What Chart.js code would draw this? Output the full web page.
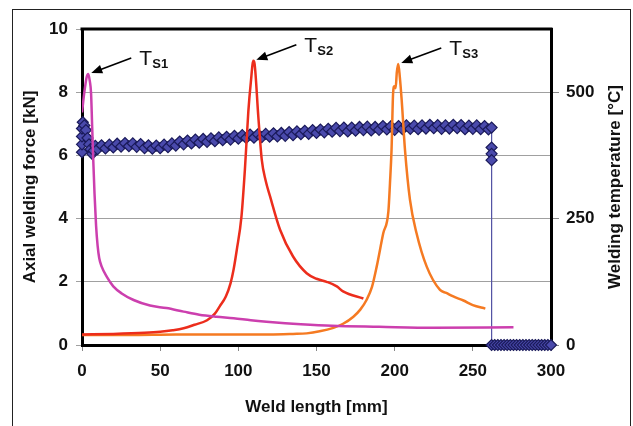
<!DOCTYPE html>
<html>
<head>
<meta charset="utf-8">
<script src="https://cdn.jsdelivr.net/npm/chart.js@4.4.1/dist/chart.umd.min.js"></script>
<style>
  html, body { margin: 0; padding: 0; background: #fff; }
  #wrap { position: relative; width: 633px; height: 426px; overflow: hidden; }
  #frame { position: absolute; left: 12px; top: 9px; width: 617px; height: 440px; border: 1.5px solid #222; }
  canvas { position: absolute; left: 0; top: 0; }
</style>
</head>
<body>
<div id="wrap">
  <div id="frame"></div>
  <canvas id="weldChart" width="633" height="426"></canvas>
</div>
<script>
// tick labels
var lengthTicks = [0, 50, 100, 150, 200, 250, 300];
var forceTicks = [0, 2, 4, 6, 8, 10];
var tempTicks = [0, 250, 500];

// temperature at thermocouple TS1 (magenta)
var ts1Length = [0, 1.5, 3, 4, 5, 5.8, 6.5, 7.2, 8, 9, 10, 11, 12.6, 15.8, 20, 25.4, 33, 43.5, 54, 65, 75, 86, 97, 108, 118, 130, 140, 160, 190, 225, 276];
var ts1Temp = [460, 500, 530, 536, 522, 498, 432, 366, 300, 236, 196, 172, 155, 135, 116, 102, 89, 78, 73, 66, 60, 56, 53, 49, 46, 43, 41, 38, 36, 34, 35];

// temperature at TS2 (red)
var ts2Length = [0, 20, 40, 50, 58, 65, 72, 80, 85, 88, 92, 95, 97, 99, 102, 104.3, 106.4, 108, 109.6, 110.4, 112.8, 115, 117.5, 120.3, 126.7, 135, 143.7, 150, 156.5, 163, 167, 180];
var ts2Temp = [21, 22, 24, 26, 29, 33, 40, 49, 62, 76, 96, 122, 150, 188, 254, 352, 462, 520, 562, 556, 451, 366, 325, 294, 228, 175, 142, 131, 125, 116, 106, 92];

// temperature at TS3 (orange)
var ts3Length = [0, 30, 60, 90, 120, 135, 143.7, 152, 160.8, 167, 173.6, 178, 182, 185.5, 188.5, 192.7, 196, 197, 198, 199, 199.8, 200.6, 201.4, 202.3, 203.3, 204.5, 206.6, 209.8, 214, 220.5, 229, 233, 237.5, 244, 250, 258];
var ts3Temp = [20, 20, 21, 21, 21, 22, 23, 27, 34, 42, 56, 70, 89, 115, 155, 221, 265, 320, 386, 498, 512, 508, 540, 556, 530, 484, 386, 287, 221, 155, 109, 103, 96, 88, 79, 72];

// axial welding force (blue diamonds)
var forceLength = [0, 0, 0, 0, 0.5, 1.5, 2.5, 3.5, 4.5, 5.5, 6.5, 7.5, 8.5,
  10, 12.5, 15, 17.5, 20, 22.5, 25, 27.5, 30, 32.5, 35, 37.5, 40, 42.5, 45, 47.5,
  50, 52.5, 55, 57.5, 60, 62.5, 65, 67.5, 70, 72.5, 75, 77.5, 80, 82.5, 85, 87.5,
  90, 92.5, 95, 97.5, 100, 102.5, 105, 107.5, 110, 112.5, 115, 117.5, 120, 122.5, 125, 127.5,
  130, 132.5, 135, 137.5, 140, 142.5, 145, 147.5, 150, 152.5, 155, 157.5, 160, 162.5, 165, 167.5,
  170, 172.5, 175, 177.5, 180, 182.5, 185, 187.5, 190, 192.5, 195, 197.5, 200, 202.5, 205, 207.5,
  210, 212.5, 215, 217.5, 220, 222.5, 225, 227.5, 230, 232.5, 235, 237.5, 240, 242.5, 245, 247.5,
  250, 252.5, 255, 257.5, 260, 262, 262, 262, 262, 262,
  264, 266, 268, 270, 272, 274, 276, 278, 280, 282, 284, 286, 288, 290, 292, 294, 296, 298, 300];
var forceValue = [6.1, 6.35, 6.6, 6.85, 7.05, 6.95, 6.8, 6.55, 6.35, 6.2, 6.05, 6.15, 6.3,
  6.20, 6.32, 6.22, 6.34, 6.25, 6.37, 6.28, 6.39, 6.29, 6.38, 6.27, 6.36, 6.23, 6.32, 6.21, 6.31,
  6.23, 6.34, 6.26, 6.38, 6.31, 6.44, 6.35, 6.47, 6.38, 6.50, 6.40, 6.52, 6.43, 6.54, 6.45, 6.57,
  6.48, 6.59, 6.50, 6.62, 6.53, 6.64, 6.55, 6.66, 6.56, 6.67, 6.58, 6.68, 6.59, 6.70, 6.60, 6.71,
  6.62, 6.74, 6.64, 6.76, 6.67, 6.78, 6.68, 6.80, 6.71, 6.82, 6.73, 6.84, 6.75, 6.87, 6.77, 6.88,
  6.76, 6.88, 6.78, 6.90, 6.80, 6.91, 6.79, 6.90, 6.81, 6.93, 6.82, 6.92, 6.81, 6.93, 6.83, 6.95,
  6.84, 6.94, 6.83, 6.95, 6.85, 6.97, 6.86, 6.96, 6.84, 6.95, 6.85, 6.97, 6.86, 6.96, 6.83, 6.94,
  6.84, 6.95, 6.83, 6.93, 6.82, 6.88, 6.25, 6.05, 5.85, 0,
  0, 0, 0, 0, 0, 0, 0, 0, 0, 0, 0, 0, 0, 0, 0, 0, 0, 0, 0];

function pairs(xs, ys) {
  return xs.map(function (x, i) { return { x: x, y: ys[i] }; });
}

var boldFont = { family: "'Liberation Sans', Arial, sans-serif", size: 17, weight: 'bold' };

// labels T_S1..T_S3 with arrows, pointing at the peak of each curve
var peakNotes = [
  { name: 'S1', x: ts1Length[3], y: ts1Temp[3] },
  { name: 'S2', x: ts2Length[18], y: ts2Temp[18] },
  { name: 'S3', x: ts3Length[23], y: ts3Temp[23] }
];

var decorPlugin = {
  id: 'decor',
  beforeDatasetsDraw: function (chart) {
    var ctx = chart.ctx, a = chart.chartArea;
    ctx.save();
    ctx.strokeStyle = '#000';
    ctx.lineWidth = 3;
    ctx.beginPath();
    ctx.moveTo(a.left - 1.5, a.top);
    ctx.lineTo(a.right + 1.5, a.top);
    ctx.stroke();
    ctx.restore();
  },
  afterDraw: function (chart) {
    var ctx = chart.ctx, a = chart.chartArea;
    var xs = chart.scales.x, ys = chart.scales.yTemp;
    ctx.save();
    ctx.fillStyle = '#111';
    ctx.font = "bold 17px 'Liberation Sans', Arial, sans-serif";
    ctx.textAlign = 'center';
    ctx.textBaseline = 'middle';
    ctx.fillText('Weld length [mm]', (a.left + a.right) / 2, 407);
    ctx.save();
    ctx.translate(30, (a.top + a.bottom) / 2);
    ctx.rotate(-Math.PI / 2);
    ctx.fillText('Axial welding force [kN]', 0, 0);
    ctx.restore();
    ctx.save();
    ctx.translate(615, (a.top + a.bottom) / 2);
    ctx.rotate(-Math.PI / 2);
    ctx.fillText('Welding temperature [°C]', 0, 0);
    ctx.restore();

    peakNotes.forEach(function (n) {
      var hx = xs.getPixelForValue(n.x) + 3;
      var hy = ys.getPixelForValue(n.y) - 1;
      var tx = hx + 40, ty = hy - 15;
      var ang = Math.atan2(hy - ty, hx - tx);
      ctx.strokeStyle = '#000';
      ctx.fillStyle = '#000';
      ctx.lineWidth = 1.6;
      ctx.beginPath();
      ctx.moveTo(tx, ty);
      ctx.lineTo(hx - 8 * Math.cos(ang), hy - 8 * Math.sin(ang));
      ctx.stroke();
      ctx.beginPath();
      ctx.moveTo(hx, hy);
      ctx.lineTo(hx - 11 * Math.cos(ang) + 4.5 * Math.sin(ang), hy - 11 * Math.sin(ang) - 4.5 * Math.cos(ang));
      ctx.lineTo(hx - 11 * Math.cos(ang) - 4.5 * Math.sin(ang), hy - 11 * Math.sin(ang) + 4.5 * Math.cos(ang));
      ctx.closePath();
      ctx.fill();
      ctx.textAlign = 'left';
      ctx.textBaseline = 'alphabetic';
      ctx.fillStyle = '#111';
      ctx.font = "21px 'Liberation Sans', Arial, sans-serif";
      ctx.fillText('T', tx + 8, ty + 7);
      ctx.font = "bold 13px 'Liberation Sans', Arial, sans-serif";
      ctx.fillText(n.name, tx + 21, ty + 10);
    });
    ctx.restore();
  }
};

var ctx = document.getElementById('weldChart').getContext('2d');
var weldChart = new Chart(ctx, {
  type: 'line',
  data: {
    datasets: [{
      label: 'TS1',
      data: pairs(ts1Length, ts1Temp),
      yAxisID: 'yTemp',
      borderColor: '#cc3fae',
      borderWidth: 2.5,
      pointRadius: 0,
      cubicInterpolationMode: 'monotone'
    }, {
      label: 'TS2',
      data: pairs(ts2Length, ts2Temp),
      yAxisID: 'yTemp',
      borderColor: '#ec2d1c',
      borderWidth: 2.5,
      pointRadius: 0,
      cubicInterpolationMode: 'monotone'
    }, {
      label: 'TS3',
      data: pairs(ts3Length, ts3Temp),
      yAxisID: 'yTemp',
      borderColor: '#f57a22',
      borderWidth: 2.5,
      pointRadius: 0,
      cubicInterpolationMode: 'monotone'
    }, {
      label: 'Force',
      data: pairs(forceLength, forceValue),
      yAxisID: 'yForce',
      borderColor: '#5555a4',
      borderWidth: 1,
      pointStyle: 'rectRot',
      pointRadius: 5.5,
      pointBackgroundColor: '#4a4aac',
      pointBorderColor: '#1a1a5a',
      pointBorderWidth: 1.2,
      clip: false
    }]
  },
  options: {
    responsive: false,
    animation: false,
    layout: { padding: { top: 29, left: 0, right: 0, bottom: 0 } },
    plugins: {
      legend: { display: false },
      tooltip: { enabled: false }
    },
    scales: {
      x: {
        type: 'linear',
        min: 0,
        max: 300,
        afterBuildTicks: function (s) { s.ticks = lengthTicks.map(function (v) { return { value: v }; }); },
        afterFit: function (s) { s.height = 81; },
        ticks: { font: boldFont, color: '#111', padding: 10, maxRotation: 0 },
        grid: { drawOnChartArea: false, drawTicks: true, tickLength: 6, color: '#888' },
        border: { color: '#000', width: 3 }
      },
      yForce: {
        position: 'left',
        min: 0,
        max: 10,
        afterBuildTicks: function (s) { s.ticks = forceTicks.map(function (v) { return { value: v }; }); },
        afterFit: function (s) { s.width = 82; },
        ticks: { font: boldFont, color: '#111', padding: 8 },
        grid: { color: '#a0a0a0', lineWidth: 1, tickLength: 6 },
        border: { color: '#000', width: 3 }
      },
      yTemp: {
        position: 'right',
        min: 0,
        max: 625,
        afterBuildTicks: function (s) { s.ticks = tempTicks.map(function (v) { return { value: v }; }); },
        afterFit: function (s) { s.width = 82; },
        ticks: { font: boldFont, color: '#111', padding: 7 },
        grid: { drawOnChartArea: false, drawTicks: true, tickLength: 8, color: '#888' },
        border: { color: '#000', width: 3 }
      }
    }
  },
  plugins: [decorPlugin]
});
</script>
</body>
</html>
